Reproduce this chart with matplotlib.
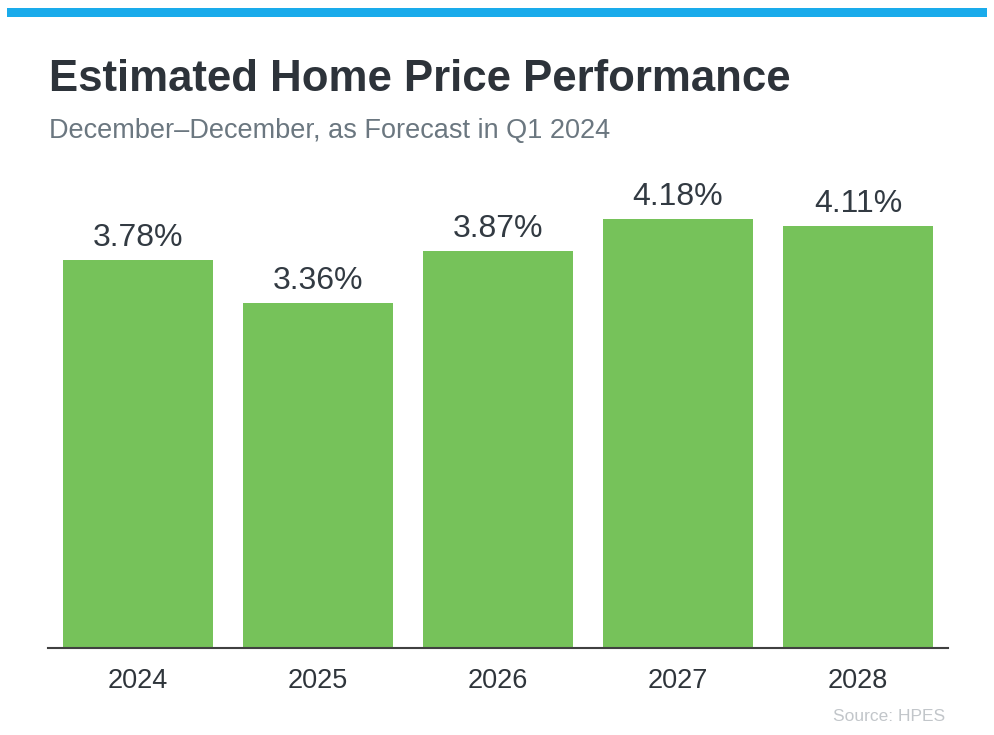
import matplotlib
matplotlib.use("Agg")
import matplotlib.pyplot as plt
from matplotlib.patches import Rectangle

years = ["2024", "2025", "2026", "2027", "2028"]
values = [3.78, 3.36, 3.87, 4.18, 4.11]
labels = ["3.78%", "3.36%", "3.87%", "4.18%", "4.11%"]

W, H = 995, 735
plt.rcParams['font.family'] = ['Liberation Sans', 'DejaVu Sans']
fig = plt.figure(figsize=(W / 100, H / 100), dpi=100)
fig.patch.set_facecolor('white')

# top blue band
fig.add_artist(Rectangle((7 / W, 1 - 17.3 / H), (987 - 7) / W, 9.3 / H,
                         transform=fig.transFigure, color='#1aabeb', lw=0))

ax_left, ax_right = 48 / W, 948 / W
ax_bottom = (H - 648) / H
ax_top = (H - 135) / H
ax = fig.add_axes([ax_left, ax_bottom, ax_right - ax_left, ax_top - ax_bottom])

x = list(range(len(years)))
bars = ax.bar(x, values, width=150 / 180, color='#76c25a', zorder=2)
ax.set_xlim(-0.5, 4.5)
ax.set_ylim(0, 5)

for xi, v, lab in zip(x, values, labels):
    ax.annotate(lab, (xi, v), xytext=(0, 10), textcoords='offset points',
                ha='center', va='baseline', fontsize=23, color='#323a42')

for s in ['top', 'right', 'left']:
    ax.spines[s].set_visible(False)
ax.spines['bottom'].set_color('#404040')
ax.spines['bottom'].set_linewidth(1.5)
ax.set_yticks([])
ax.set_xticks(x)
ax.set_xticklabels(years, fontsize=19.5, color='#2f353b')
ax.tick_params(axis='x', length=0, pad=14.5)
ax.set_facecolor('none')

fig.text(49 / W, 1 - 91 / H, "Estimated Home Price Performance", fontsize=31.5,
         fontweight='bold', color='#2d333a', ha='left', va='baseline')
fig.text(49 / W, 1 - 138 / H, "December\u2013December, as Forecast in Q1 2024",
         fontsize=19.5, color='#6b7780', ha='left', va='baseline')
fig.text(945 / W, 1 - 721 / H, "Source: HPES", fontsize=12.5, color='#c2c6ca',
         ha='right', va='baseline')

fig.savefig("out.png", dpi=100, facecolor='white')
